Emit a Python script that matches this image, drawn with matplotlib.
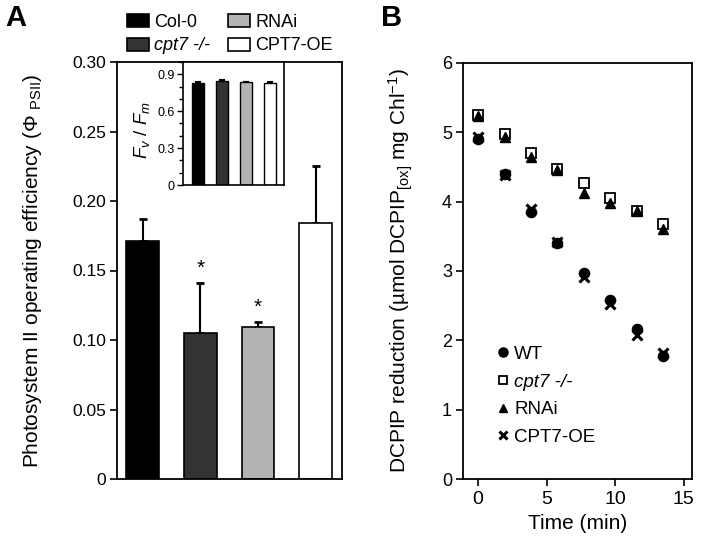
import numpy as np
import matplotlib
matplotlib.use("Agg")
import matplotlib.pyplot as plt
from matplotlib.ticker import MultipleLocator

plt.rcParams["font.family"] = ["Liberation Sans", "DejaVu Sans"]
plt.rcParams["mathtext.fontset"] = "custom"
plt.rcParams["mathtext.rm"] = "Liberation Sans"
plt.rcParams["mathtext.it"] = "Liberation Sans:italic"
plt.rcParams["mathtext.bf"] = "Liberation Sans:bold"

# Panel A: PSII operating efficiency
genotypes = ["Col-0", "cpt7 -/-", "RNAi", "CPT7-OE"]
phi_psii = [0.171, 0.105, 0.109, 0.184]
phi_err = [0.016, 0.036, 0.004, 0.041]
significant = [False, True, True, False]
bar_colors = ["#000000", "#333333", "#b3b3b3", "#ffffff"]

# Inset: Fv/Fm
fvfm = [0.830, 0.845, 0.835, 0.830]
fvfm_err = [0.005, 0.010, 0.003, 0.004]

# Panel B: DCPIP reduction over time
time_min = [0.0, 1.93, 3.86, 5.79, 7.72, 9.65, 11.58, 13.51]
dcpip_wt = [4.90, 4.40, 3.85, 3.40, 2.97, 2.58, 2.16, 1.77]
dcpip_cpt7 = [5.25, 4.98, 4.70, 4.47, 4.27, 4.05, 3.87, 3.68]
dcpip_rnai = [5.23, 4.93, 4.65, 4.45, 4.13, 3.98, 3.86, 3.60]
dcpip_oe = [4.93, 4.38, 3.90, 3.42, 2.92, 2.52, 2.08, 1.82]

W, H = 701, 543
fig = plt.figure(figsize=(W / 100, H / 100), dpi=100)


def box(l, t, r, b):
    return [l / W, 1 - b / H, (r - l) / W, (b - t) / H]


tick_fs = 12.5
lab_fs = 15
leg_fs = 13

# ---- Panel A ----
ax = fig.add_axes(box(117, 62, 342, 479))
x = np.arange(len(genotypes))
bars = ax.bar(x, phi_psii, width=0.57, color=bar_colors, edgecolor="black",
              linewidth=1.2, zorder=2)
ax.errorbar(x, phi_psii, yerr=[np.zeros(4), phi_err], fmt="none", ecolor="black",
            elinewidth=1.5, capsize=3, capthick=2, zorder=1)
for xi, v, e, s in zip(x, phi_psii, phi_err, significant):
    if s:
        ax.text(xi, v + e + 0.004, "*", ha="center", va="bottom", fontsize=15)
ax.set_xlim(-0.45, 3.46)
ax.set_ylim(0, 0.30)
ax.set_xticks([])
ax.set_yticks(np.arange(0, 0.301, 0.05))
ax.set_yticklabels(["0", "0.05", "0.10", "0.15", "0.20", "0.25", "0.30"])
ax.tick_params(axis="y", direction="out", length=5, width=1.2, labelsize=tick_fs, pad=3)
for sp in ax.spines.values():
    sp.set_linewidth(1.3)
ax.set_ylabel(r"Photosystem II operating efficiency ($\mathit{Φ}$ $_{\mathrm{PSII}}$)",
              fontsize=lab_fs)
ax.yaxis.set_label_coords(-0.325, 0.5)

leg = fig.legend(bars, genotypes, ncol=2, loc="upper left",
                 bbox_to_anchor=(127 / W, 1 - 14 / H), frameon=False, fontsize=leg_fs,
                 handlelength=1.22, handleheight=0.75, handletextpad=0.3,
                 columnspacing=0.95, labelspacing=0.36, borderpad=0, borderaxespad=0)
for t in leg.get_texts():
    if t.get_text().startswith("cpt7"):
        t.set_fontstyle("italic")

# inset
axi = fig.add_axes(box(183, 62, 284, 185))
axi.bar(x, fvfm, width=0.5, color=bar_colors, edgecolor="black", linewidth=1.0, zorder=2)
axi.errorbar(x, fvfm, yerr=[np.zeros(4), fvfm_err], fmt="none", ecolor="black",
             elinewidth=1.0, capsize=2, capthick=1.5, zorder=1)
axi.set_xlim(-0.64, 3.58)
axi.set_ylim(0, 1.0)
axi.set_xticks([])
axi.set_yticks([0, 0.3, 0.6, 0.9])
axi.set_yticklabels(["0", "0.3", "0.6", "0.9"])
axi.yaxis.set_minor_locator(MultipleLocator(0.1))
axi.tick_params(axis="y", which="major", direction="out", length=4, width=1.0,
                labelsize=9, pad=2)
axi.tick_params(axis="y", which="minor", direction="out", length=3, width=1.0)
for sp in axi.spines.values():
    sp.set_linewidth(1.2)
axi.set_ylabel(r"$\mathit{F_v}$ / $\mathit{F_m}$", fontsize=13.5)
axi.yaxis.set_label_coords(-0.31, 0.45)

fig.text(5 / W, 1 - 18 / H, "A", fontsize=21, fontweight="bold", va="center", ha="left")

# ---- Panel B ----
bx = fig.add_axes(box(463, 63, 692, 479))
ms = 7
bx.plot(time_min, dcpip_cpt7, ls="none", marker="s", ms=ms, mfc="white", mec="black",
        mew=1.3, label="cpt7 -/-", zorder=3)
bx.plot(time_min, dcpip_rnai, ls="none", marker="^", ms=ms, color="black",
        label="RNAi", zorder=4)
bx.plot(time_min, dcpip_oe, ls="none", marker="x", ms=6.5, mew=2.2, color="black",
        label="CPT7-OE", zorder=5)
bx.plot(time_min, dcpip_wt, ls="none", marker="o", ms=ms + 0.3, color="black",
        label="WT", zorder=6)
bx.set_xlim(-1.1, 15.6)
bx.set_ylim(0, 6)
bx.set_xticks([0, 5, 10, 15])
bx.set_yticks(range(0, 7))
bx.tick_params(direction="out", length=5, width=1.2, pad=3)
bx.tick_params(axis="y", labelsize=13)
bx.tick_params(axis="x", labelsize=14, pad=4)
for sp in bx.spines.values():
    sp.set_linewidth(1.3)
bx.set_xlabel("Time (min)", fontsize=15, labelpad=4)
bx.set_ylabel(r"DCPIP reduction (µmol DCPIP$_{\mathrm{[ox]}}$ mg Chl$^{\mathrm{-1}}$)",
              fontsize=lab_fs)
bx.yaxis.set_label_coords(-0.21, 0.5)

h, l = bx.get_legend_handles_labels()
order = [3, 0, 1, 2]
lg = bx.legend([h[i] for i in order], [l[i] for i in order], loc="upper left",
               bbox_to_anchor=(0.15, 0.32), frameon=False, fontsize=13.5,
               handlelength=0.6, handletextpad=0.3, labelspacing=0.56,
               borderpad=0, borderaxespad=0, markerscale=0.9)
for t in lg.get_texts():
    if t.get_text().startswith("cpt7"):
        t.set_fontstyle("italic")

fig.text(381 / W, 1 - 18 / H, "B", fontsize=21, fontweight="bold", va="center", ha="left")

fig.savefig("out.png", dpi=100)
